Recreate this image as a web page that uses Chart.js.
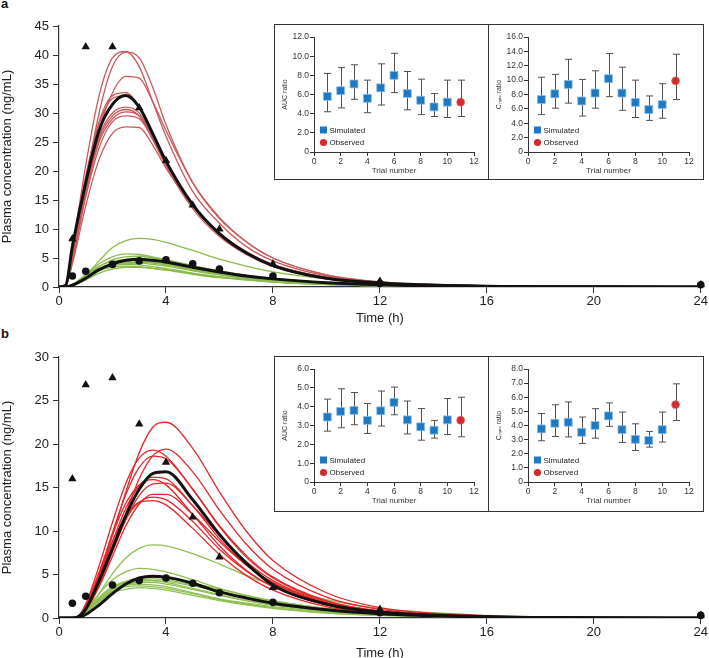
<!DOCTYPE html>
<html>
<head>
<meta charset="utf-8">
<script src="https://cdn.jsdelivr.net/npm/chart.js@4.4.1/dist/chart.umd.min.js"></script>
<style>
html, body { margin: 0; padding: 0; background: #fff; overflow: hidden; }
body { width: 709px; height: 658px; position: relative; font-family: "Liberation Sans", Arial, sans-serif; }
canvas { position: absolute; }
.letter { position: absolute; font-weight: bold; font-size: 13px; color: #111; }
.box { position: absolute; border: 1px solid #333; background: #fff; box-sizing: border-box; }
.divider { position: absolute; width: 1px; background: #333; }
</style>
</head>
<body>
<div class="letter" style="left:1px; top:-4px;">a</div>
<div class="letter" style="left:1px; top:326px;">b</div>

<canvas id="mainA" width="709" height="330" style="left:0; top:0;"></canvas>
<canvas id="mainB" width="709" height="335" style="left:0; top:330px;"></canvas>

<div class="box" style="left:274px; top:24px; width:430px; height:156px;"></div>
<div class="divider" style="left:488px; top:24px; height:156px;"></div>
<canvas id="aucA" width="213" height="154" style="left:275px; top:25px;"></canvas>
<canvas id="cmaxA" width="214" height="154" style="left:489px; top:25px;"></canvas>

<div class="box" style="left:274px; top:356px; width:430px; height:156px;"></div>
<div class="divider" style="left:488px; top:356px; height:156px;"></div>
<canvas id="aucB" width="213" height="154" style="left:275px; top:357px;"></canvas>
<canvas id="cmaxB" width="214" height="154" style="left:489px; top:357px;"></canvas>

<script>
// ---- time course data ----
const timesA = [0, 0.25, 0.5, 1, 1.5, 2, 2.5, 3, 3.5, 4, 5, 6, 7, 8, 10, 12, 16, 20, 24];
const timesB = [0, 0.5, 0.75, 1, 1.5, 2, 2.5, 3, 3.5, 4, 5, 6, 7, 8, 10, 12, 16, 20, 24];
const sampleTimes = [0.5, 1, 2, 3, 4, 5, 6, 8, 12, 24];

// panel a: observed (triangles = with inhibitor, circles = alone)
const observedTriA = [8.3, 41.4, 41.4, 30.9, 21.8, 14.1, 10.0, 4.0, 1.0, 0.4];
const observedCircA = [1.9, 2.7, 3.9, 4.5, 4.7, 4.0, 3.1, 1.9, 0.6, 0.4];

const redMeanA = [0, 0.3, 7, 18, 27, 31.5, 33, 31, 26.5, 21.7, 14.2, 9.2, 5.9, 3.7, 1.5, 0.7, 0.15, 0.03, 0];
const redTrialsA = [
  [0, 0.3, 6.5, 21, 33, 39.5, 40.6, 38, 32, 26, 16.5, 11, 7, 4.5, 1.9, 0.8, 0.2, 0.05, 0],
  [0, 0.2, 5, 18, 30, 38, 40.5, 39.5, 34.5, 28, 18, 11.8, 7.8, 5, 2.1, 0.9, 0.2, 0.05, 0],
  [0, 0.2, 5, 17, 27, 33.5, 36.3, 36, 32, 27, 18, 12, 7.8, 5, 2.1, 0.9, 0.2, 0.05, 0],
  [0, 0.3, 6, 19, 28.5, 33, 33.5, 31, 26, 21, 13.5, 8.7, 5.6, 3.5, 1.4, 0.6, 0.1, 0.03, 0],
  [0, 0.3, 6, 19, 28, 32.5, 33, 31, 26.5, 21.5, 14, 9, 5.8, 3.6, 1.5, 0.6, 0.1, 0.03, 0],
  [0, 0.2, 5, 17, 26, 30, 31, 30, 26, 21.5, 14, 9.2, 6, 3.8, 1.6, 0.7, 0.15, 0.03, 0],
  [0, 0.2, 5, 16.5, 25.5, 29.5, 30.6, 29.5, 25.5, 21, 14, 9, 5.8, 3.7, 1.5, 0.6, 0.1, 0.03, 0],
  [0, 0.2, 4.5, 16, 25, 29, 30.2, 29.5, 26, 21.5, 14.3, 9.3, 6, 3.8, 1.6, 0.7, 0.15, 0.03, 0],
  [0, 0.2, 4.5, 15.5, 24, 28.5, 29.5, 29, 25.5, 21, 14, 9.2, 6, 3.8, 1.6, 0.7, 0.15, 0.03, 0],
  [0, 0.2, 4, 14, 22, 26.5, 27.6, 27.5, 24.5, 20.5, 14, 9.3, 6.1, 3.9, 1.7, 0.7, 0.15, 0.03, 0]
];
const greenMeanA = [0, 0, 0.3, 1.5, 3, 4, 4.6, 4.8, 4.6, 4.3, 3.4, 2.6, 1.9, 1.4, 0.75, 0.4, 0.1, 0.03, 0];
const greenTrialsA = [
  [0, 0, 0.4, 2, 4.5, 6.8, 8, 8.4, 8.2, 7.7, 6.3, 4.8, 3.6, 2.6, 1.4, 0.7, 0.2, 0.05, 0],
  [0, 0, 0.4, 2.2, 4, 5.2, 5.7, 5.6, 5.2, 4.7, 3.7, 2.8, 2.0, 1.5, 0.8, 0.4, 0.1, 0.02, 0],
  [0, 0, 0.3, 1.8, 3.5, 4.7, 5.2, 5.3, 5, 4.6, 3.6, 2.7, 2, 1.4, 0.75, 0.4, 0.1, 0.02, 0],
  [0, 0, 0.4, 2, 3.6, 4.4, 4.7, 4.6, 4.3, 3.9, 3.0, 2.2, 1.6, 1.2, 0.6, 0.3, 0.08, 0.02, 0],
  [0, 0, 0.3, 1.6, 3.1, 4.0, 4.4, 4.5, 4.3, 4.0, 3.2, 2.4, 1.8, 1.3, 0.7, 0.35, 0.08, 0.02, 0],
  [0, 0, 0.3, 1.5, 3, 3.9, 4.2, 4.3, 4.1, 3.8, 3.0, 2.3, 1.7, 1.2, 0.65, 0.3, 0.08, 0.02, 0],
  [0, 0, 0.3, 1.5, 2.9, 3.7, 4.0, 4.1, 3.9, 3.6, 2.8, 2.1, 1.5, 1.1, 0.6, 0.3, 0.07, 0.02, 0],
  [0, 0, 0.3, 1.6, 3, 3.7, 3.9, 3.8, 3.5, 3.2, 2.4, 1.8, 1.3, 0.9, 0.45, 0.2, 0.05, 0.01, 0],
  [0, 0, 0.3, 1.5, 2.8, 3.4, 3.6, 3.5, 3.2, 2.9, 2.2, 1.6, 1.2, 0.85, 0.4, 0.2, 0.05, 0.01, 0],
  [0, 0, 0.2, 1.2, 2.4, 3.1, 3.4, 3.4, 3.2, 3.0, 2.3, 1.7, 1.3, 0.9, 0.45, 0.2, 0.05, 0.01, 0]
];

// panel b
const observedTriB = [16.0, 26.8, 27.6, 22.3, 17.9, 11.6, 7.0, 3.5, 1.0, 0.3];
const observedCircB = [1.7, 2.5, 3.8, 4.3, 4.6, 4.0, 2.9, 1.8, 0.6, 0.3];

const redMeanB = [0, 0, 0.2, 1.0, 4.3, 8.0, 11.8, 14.8, 16.6, 16.8, 13.6, 9.6, 6.3, 3.8, 1.6, 0.7, 0.15, 0.03, 0];
const redTrialsB = [
  [0, 0, 0.2, 1.1, 4.6, 9.5, 14.5, 19, 21.9, 22.5, 19.5, 14.5, 10, 6.6, 2.9, 1.2, 0.25, 0.05, 0],
  [0, 0, 0.15, 0.9, 3.8, 7.8, 12, 16, 18.6, 19.4, 16.8, 12.4, 8.5, 5.6, 2.4, 1.0, 0.2, 0.04, 0],
  [0, 0, 0.3, 1.6, 6, 11, 15.5, 18.4, 19.3, 18.6, 14.8, 10.5, 7, 4.6, 1.9, 0.8, 0.15, 0.03, 0],
  [0, 0, 0.2, 1.3, 5, 9.8, 14.2, 17.3, 18.6, 18.3, 14.8, 10.6, 7.2, 4.7, 2.0, 0.8, 0.17, 0.03, 0],
  [0, 0, 0.2, 1.2, 4.6, 8.8, 12.6, 15.2, 16.2, 16, 12.9, 9.1, 6.1, 4.0, 1.7, 0.7, 0.15, 0.03, 0],
  [0, 0, 0.3, 1.5, 5.3, 9.6, 13.2, 15.3, 15.9, 15.3, 11.9, 8.3, 5.5, 3.6, 1.5, 0.6, 0.12, 0.02, 0],
  [0, 0, 0.15, 0.9, 3.8, 7.6, 11.3, 14.1, 15.4, 15.5, 12.9, 9.5, 6.5, 4.3, 1.8, 0.75, 0.15, 0.03, 0],
  [0, 0, 0.15, 0.9, 3.6, 7.1, 10.6, 13.1, 14.2, 14.2, 11.9, 8.8, 6.1, 4.1, 1.7, 0.7, 0.15, 0.03, 0],
  [0, 0, 0.2, 1.2, 4.4, 8.2, 11.4, 13.3, 13.9, 13.6, 11.1, 7.9, 5.4, 3.6, 1.5, 0.6, 0.12, 0.02, 0],
  [0, 0, 0.25, 1.4, 5, 8.8, 11.8, 13.3, 13.5, 13, 10.3, 7.3, 4.9, 3.2, 1.3, 0.55, 0.1, 0.02, 0]
];
const greenMeanB = [0, 0, 0.1, 0.4, 1.5, 2.8, 3.9, 4.6, 4.8, 4.7, 4.0, 3.0, 2.3, 1.7, 0.95, 0.5, 0.12, 0.03, 0];
const greenTrialsB = [
  [0, 0, 0.1, 0.8, 2.8, 5.1, 6.9, 8, 8.4, 8.3, 7.4, 6.2, 4.9, 3.8, 2.1, 1.1, 0.3, 0.08, 0],
  [0, 0, 0.2, 1, 2.8, 4.4, 5.3, 5.7, 5.6, 5.3, 4.4, 3.4, 2.6, 1.9, 1.0, 0.5, 0.12, 0.03, 0],
  [0, 0, 0.1, 0.7, 2.1, 3.4, 4.2, 4.6, 4.7, 4.6, 4.0, 3.3, 2.6, 2.0, 1.1, 0.6, 0.15, 0.04, 0],
  [0, 0, 0.1, 0.8, 2.2, 3.4, 4.1, 4.4, 4.5, 4.4, 3.8, 3.1, 2.4, 1.8, 1.0, 0.5, 0.13, 0.03, 0],
  [0, 0, 0.2, 0.9, 2.4, 3.6, 4.2, 4.4, 4.3, 4.1, 3.4, 2.7, 2.0, 1.5, 0.8, 0.4, 0.1, 0.02, 0],
  [0, 0, 0.1, 0.6, 1.9, 3.1, 3.8, 4.2, 4.3, 4.2, 3.7, 3.0, 2.4, 1.9, 1.1, 0.6, 0.15, 0.04, 0],
  [0, 0, 0.1, 0.7, 2.0, 3.1, 3.8, 4.1, 4.1, 3.9, 3.3, 2.6, 2.0, 1.5, 0.8, 0.45, 0.1, 0.02, 0],
  [0, 0, 0.2, 0.9, 2.3, 3.3, 3.8, 3.9, 3.8, 3.6, 2.9, 2.2, 1.7, 1.3, 0.7, 0.35, 0.08, 0.02, 0],
  [0, 0, 0.2, 0.8, 2.1, 3.1, 3.6, 3.7, 3.6, 3.4, 2.8, 2.1, 1.6, 1.2, 0.6, 0.3, 0.07, 0.02, 0],
  [0, 0, 0.1, 0.7, 1.9, 2.9, 3.3, 3.5, 3.4, 3.2, 2.6, 2.0, 1.5, 1.1, 0.55, 0.3, 0.07, 0.01, 0]
];

// ---- inset data (ratio per trial, with 5th/95th range) ----
const trialNumbers = [1, 2, 3, 4, 5, 6, 7, 8, 9, 10];
const observedTrial = [11];

const aucSimA = [5.8, 6.4, 7.1, 5.6, 6.7, 8.0, 6.1, 5.4, 4.7, 5.2];
const aucLowA = [4.2, 4.6, 5.5, 4.1, 4.9, 6.2, 4.4, 3.9, 3.7, 3.6];
const aucHighA = [8.2, 8.8, 9.1, 7.5, 9.2, 10.3, 8.4, 7.6, 6.1, 7.5];
const aucObsA = [5.2], aucObsLowA = [3.7], aucObsHighA = [7.5];

const cmaxSimA = [7.3, 8.1, 9.4, 7.1, 8.2, 10.2, 8.2, 6.9, 5.9, 6.6];
const cmaxLowA = [5.2, 6.1, 6.8, 5.0, 6.1, 7.7, 5.8, 4.8, 4.4, 4.7];
const cmaxHighA = [10.4, 10.8, 12.9, 10.1, 11.3, 13.7, 11.8, 10.0, 7.8, 9.5];
const cmaxObsA = [9.9], cmaxObsLowA = [7.3], cmaxObsHighA = [13.6];

const aucSimB = [3.45, 3.75, 3.8, 3.27, 3.78, 4.23, 3.3, 2.93, 2.75, 3.3];
const aucLowB = [2.7, 2.88, 3.04, 2.58, 2.97, 3.57, 2.55, 2.22, 2.33, 2.52];
const aucHighB = [4.4, 4.95, 4.75, 4.17, 4.83, 5.04, 4.3, 3.9, 3.27, 4.43];
const aucObsB = [3.28], aucObsLowB = [2.4], aucObsHighB = [4.5];

const cmaxSimB = [3.76, 4.16, 4.23, 3.52, 4.0, 4.68, 3.71, 3.02, 2.94, 3.71];
const cmaxLowB = [2.92, 3.22, 3.19, 2.73, 3.1, 3.94, 2.8, 2.23, 2.47, 2.83];
const cmaxHighB = [4.85, 5.47, 5.67, 4.6, 5.19, 5.6, 4.95, 4.12, 3.58, 4.95];
const cmaxObsB = [5.48], cmaxObsLowB = [4.35], cmaxObsHighB = [6.95];

const FONT = '"Liberation Sans", Arial, Helvetica, sans-serif';
const AXIS = '#333';

function toPoints(xs, ys) {
  return xs.map((x, i) => ({ x: x, y: ys[i] }));
}

// error bars drawn behind the markers
const errorBarPlugin = {
  id: 'errorBars',
  beforeDatasetsDraw(chart) {
    const ctx = chart.ctx;
    const yScale = chart.scales.y;
    chart.data.datasets.forEach((ds, di) => {
      if (!ds.errLow) return;
      const meta = chart.getDatasetMeta(di);
      meta.data.forEach((pt, i) => {
        const x = Math.round(pt.x) + 0.5;
        const yl = yScale.getPixelForValue(ds.errLow[i]);
        const yh = yScale.getPixelForValue(ds.errHigh[i]);
        ctx.save();
        ctx.strokeStyle = '#505050';
        ctx.lineWidth = 1;
        ctx.beginPath();
        ctx.moveTo(x, yl); ctx.lineTo(x, yh);
        ctx.moveTo(x - 3.5, yl); ctx.lineTo(x + 3.5, yl);
        ctx.moveTo(x - 3.5, yh); ctx.lineTo(x + 3.5, yh);
        ctx.stroke();
        ctx.restore();
      });
    });
  }
};

// small legend in the lower left corner of each inset
const insetLegendPlugin = {
  id: 'insetLegend',
  afterDatasetsDraw(chart) {
    const { ctx, chartArea } = chart;
    const x = chartArea.left + 9.5;
    const y1 = chartArea.bottom - 22;
    const y2 = chartArea.bottom - 9.5;
    ctx.save();
    ctx.fillStyle = '#1e78c2';
    ctx.fillRect(x - 3.5, y1 - 3.5, 7, 7);
    ctx.fillStyle = '#d22b2b';
    ctx.beginPath();
    ctx.arc(x, y2, 3.6, 0, Math.PI * 2);
    ctx.fill();
    ctx.fillStyle = '#222';
    ctx.font = '8px ' + FONT;
    ctx.textBaseline = 'middle';
    ctx.fillText('Simulated', x + 6, y1 + 0.5);
    ctx.fillText('Observed', x + 6, y2 + 0.5);
    ctx.restore();
  }
};

function makeMain(id, times, redTrials, redMean, greenTrials, greenMean, tri, circ, yMax, redColor, greenColor, padTop, xAxisH) {
  const datasets = [];
  datasets.push({ data: toPoints(sampleTimes, tri), pointStyle: 'triangle', pointRadius: 4.8,
    backgroundColor: '#111', borderColor: '#111', borderWidth: 0, showLine: false, order: 0, clip: false });
  datasets.push({ data: toPoints(sampleTimes, circ), pointStyle: 'circle', pointRadius: 3.8,
    backgroundColor: '#111', borderColor: '#111', borderWidth: 0, showLine: false, order: 1, clip: false });
  const line = (vals, color, width, order) => ({
    data: toPoints(times, vals), showLine: true, pointRadius: 0, borderColor: color,
    borderWidth: width, cubicInterpolationMode: 'monotone', fill: false, order: order
  });
  datasets.push(line(redMean, '#111', 3, 2));
  datasets.push(line(greenMean, '#111', 3, 2));
  redTrials.forEach(v => datasets.push(line(v, redColor, 1.3, 3)));
  greenTrials.forEach(v => datasets.push(line(v, greenColor, 1.3, 3)));

  return new Chart(document.getElementById(id), {
    type: 'scatter',
    data: { datasets: datasets },
    options: {
      responsive: false,
      animation: false,
      events: [],
      layout: { padding: { left: 0, right: 7, top: padTop, bottom: 0 } },
      plugins: { legend: { display: false }, tooltip: { enabled: false } },
      scales: {
        x: {
          type: 'linear', min: 0, max: 24,
          afterFit: s => { s.height = xAxisH; },
          ticks: { stepSize: 4, color: '#222', padding: 1, font: { family: FONT, size: 13 } },
          grid: { drawOnChartArea: false, drawTicks: true, tickLength: 6, color: AXIS },
          border: { color: AXIS, width: 1.2 },
          title: { display: true, text: 'Time (h)', color: '#222', padding: { top: 0, bottom: 4 },
            font: { family: FONT, size: 13 } }
        },
        y: {
          type: 'linear', min: 0, max: yMax,
          afterFit: s => { s.width = 59; },
          ticks: { stepSize: 5, color: '#222', padding: 4, font: { family: FONT, size: 13 } },
          grid: { drawOnChartArea: false, drawTicks: true, tickLength: 6, color: AXIS },
          border: { color: AXIS, width: 1.2 },
          title: { display: true, text: 'Plasma concentration (ng/mL)', color: '#222',
            padding: { top: 0, bottom: 0 }, font: { family: FONT, size: 13 } }
        }
      }
    }
  });
}

function makeInset(id, sim, low, high, obs, obsLow, obsHigh, yMax, step, yTitle, padTop, xAxisH, xTitleBottom) {
  return new Chart(document.getElementById(id), {
    type: 'scatter',
    data: {
      datasets: [
        { label: 'Observed', data: toPoints(observedTrial, obs), errLow: obsLow, errHigh: obsHigh,
          pointStyle: 'circle', pointRadius: 3.9, backgroundColor: '#d22b2b', borderColor: '#e06060',
          borderWidth: 0.8, clip: false },
        { label: 'Simulated', data: toPoints(trialNumbers, sim), errLow: low, errHigh: high,
          pointStyle: 'rect', pointRadius: 5.6, backgroundColor: '#1e78c2', borderColor: '#8dbde6',
          borderWidth: 0.8, clip: false }
      ]
    },
    options: {
      responsive: false,
      animation: false,
      events: [],
      layout: { padding: { left: 0, right: 14, top: padTop, bottom: 0 } },
      plugins: { legend: { display: false }, tooltip: { enabled: false } },
      scales: {
        x: {
          type: 'linear', min: 0, max: 12,
          afterFit: s => { s.height = xAxisH; },
          ticks: { stepSize: 2, color: '#333', padding: 1, font: { family: FONT, size: 8.5 } },
          grid: { drawOnChartArea: false, drawTicks: true, tickLength: 4, color: AXIS },
          border: { color: AXIS, width: 1 },
          title: { display: true, text: 'Trial number', color: '#333',
            padding: { top: 0, bottom: xTitleBottom }, font: { family: FONT, size: 8 } }
        },
        y: {
          type: 'linear', min: 0, max: yMax,
          afterFit: s => { s.width = 39; },
          ticks: { stepSize: step, color: '#333', padding: 1, font: { family: FONT, size: 8.5 },
            callback: v => (v === 0 ? '0' : v.toFixed(1)) },
          grid: { drawOnChartArea: false, drawTicks: true, tickLength: 4, color: AXIS },
          border: { color: AXIS, width: 1 },
          title: { display: true, text: yTitle, color: '#333',
            padding: { top: 6, bottom: 0 }, font: { family: FONT, size: 7 } }
        }
      }
    },
    plugins: [errorBarPlugin, insetLegendPlugin]
  });
}

document.addEventListener('DOMContentLoaded', function() {
  makeMain('mainA', timesA, redTrialsA, redMeanA, greenTrialsA, greenMeanA,
    observedTriA, observedCircA, 45, '#c95a5b', '#8cbb4c', 26, 43);
  makeMain('mainB', timesB, redTrialsB, redMeanB, greenTrialsB, greenMeanB,
    observedTriB, observedCircB, 30, '#e4262b', '#8fc052', 27, 47);

  makeInset('aucA', aucSimA, aucLowA, aucHighA, aucObsA, aucObsLowA, aucObsHighA, 12, 2, 'AUC ratio', 12, 27, 3);
  makeInset('cmaxA', cmaxSimA, cmaxLowA, cmaxHighA, cmaxObsA, cmaxObsLowA, cmaxObsHighA, 16, 2, 'Cₘₐₓ ratio', 12, 27, 3);
  makeInset('aucB', aucSimB, aucLowB, aucHighB, aucObsB, aucObsLowB, aucObsHighB, 6, 1, 'AUC ratio', 12, 29, 5.5);
  makeInset('cmaxB', cmaxSimB, cmaxLowB, cmaxHighB, cmaxObsB, cmaxObsLowB, cmaxObsHighB, 8, 1, 'Cₘₐₓ ratio', 12, 29, 5.5);
});
</script>
</body>
</html>
